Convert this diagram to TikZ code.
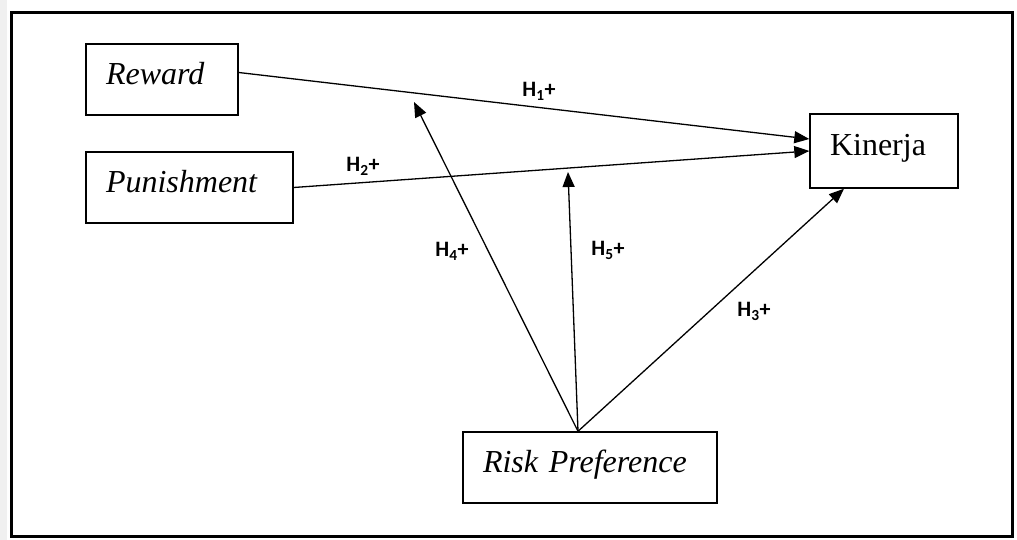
\documentclass[tikz,border=0pt]{standalone}
\usepackage{fontspec}
\setmainfont{Liberation Serif}
\newfontfamily\lblfont{Carlito}
\usetikzlibrary{arrows.meta,calc}
\begin{document}
\begin{tikzpicture}[x=1pt,y=1pt,
  box/.style={draw,line width=1.4pt,align=left,inner xsep=20pt,inner ysep=0pt,
    text height=21pt,text depth=11pt,font=\fontsize{32}{36}\selectfont},
  conn/.style={line width=1.3pt,-{Triangle[length=15pt,width=12pt]}},
  hlab/.style={font=\lblfont\bfseries\fontsize{22}{24}\selectfont,anchor=base,inner sep=0pt}]
\useasboundingbox (0,0) rectangle (1017,540);
\fill[gray!12] (0,0) rectangle (7,540);
\draw[line width=3pt] (11,3) rectangle (1012,527);

\node[box,text width=112pt,minimum height=71pt] (rew) at (162,460.5) {\itshape Reward};
\node[box,text width=167pt,minimum height=71pt] (pun) at (189.5,352.5) {\itshape Punishment};
\node[box,text width=108pt,minimum height=74pt] (kin) at (884,389) {Kinerja};
\node[box,text width=214pt,minimum height=71pt] (risk) at (590,72.5) {\itshape Risk Preference};

\coordinate (t4) at (414,438);
\coordinate (t5) at (568,368);
\coordinate (src) at ([xshift=-12pt]risk.north);

\draw[conn] ([yshift=7pt]rew.east) -- ([yshift=12pt]kin.west);
\draw[conn] (pun.east) -- (kin.west);
\draw[conn] (src) -- (t4);
\draw[conn] (src) -- (t5);
\draw[conn] (src) -- ([xshift=-40pt]kin.south);

\node[hlab] (h1) at (539,443) {H\textsubscript{1}+};
\node[hlab] (h2) at (363,368) {H\textsubscript{2}+};
\node[hlab] (h4) at (452,283) {H\textsubscript{4}+};
\node[hlab] (h5) at (608,284) {H\textsubscript{5}+};
\node[hlab] (h3) at (754,223) {H\textsubscript{3}+};
\end{tikzpicture}
\end{document}
